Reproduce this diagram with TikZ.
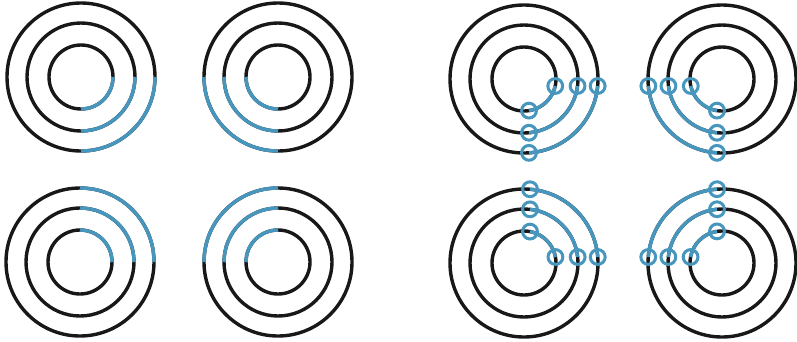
\documentclass[tikz,border=0pt]{standalone}
\definecolor{ringblue}{RGB}{70,150,190}
\definecolor{ringblack}{RGB}{24,24,24}
\newcommand\ringsleft[4]{%
  \foreach \r in {74,54,32} {
    \draw[ring] (#1,#2) circle[radius=\r];
    \draw[bluearc] (#1,#2) ++(#3:\r) arc[start angle=#3,end angle=#4,radius=\r];
  }}
\newcommand\ringsright[4]{%
  \foreach \r in {74,54,32} {
    \pgfmathsetmacro\sa{#3}
    \pgfmathsetmacro\ea{#4}
    \draw[ring] (#1,#2) circle[radius=\r];
    \draw[bluearc] (#1,#2) ++(\sa:\r) arc[start angle=\sa,end angle=\ea,radius=\r];
    \draw[marker] (#1,#2) ++(\sa:\r) circle[radius=7.4];
    \draw[marker] (#1,#2) ++(\ea:\r) circle[radius=7.4];
  }}
\begin{document}
\begin{tikzpicture}[x=1pt,y=-1pt,
  ring/.style={draw=ringblack,line width=3.4pt},
  bluearc/.style={draw=ringblue,line width=3.4pt},
  marker/.style={draw=ringblue,line width=3pt}]
\useasboundingbox (0,0) rectangle (797,341);
% left column of plain targets
\ringsleft{81}{77}{0}{90}
\ringsleft{278}{77}{90}{180}
\ringsleft{80}{262}{-90}{0}
\ringsleft{278}{262}{180}{270}
% right column with markers
\ringsright{524}{79}{asin(7/\r)}{90-asin(5/\r)}
\ringsright{722}{79}{180-asin(7/\r)}{90+asin(5/\r)}
\ringsright{524}{263}{-asin(6/\r)}{-90+asin(6/\r)}
\ringsright{722}{263}{180+asin(6/\r)}{270-asin(5/\r)}
\end{tikzpicture}
\end{document}
